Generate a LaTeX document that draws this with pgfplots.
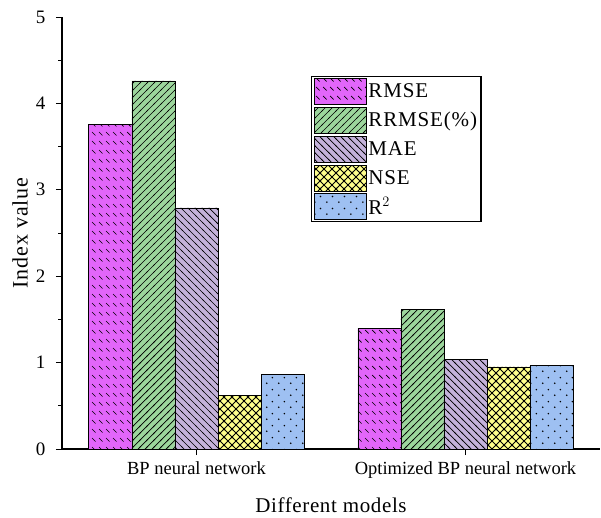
\documentclass[border=0pt]{standalone}
\usepackage{pgfplots}
\pgfplotsset{compat=1.18}
\usepackage{fontspec}
\setmainfont{Liberation Serif}
\usetikzlibrary{patterns}
\definecolor{cRMSE}{RGB}{226,102,250}
\definecolor{cRRMSE}{RGB}{156,214,156}
\definecolor{cMAE}{RGB}{196,178,218}
\definecolor{cNSE}{RGB}{255,255,140}
\definecolor{cR}{RGB}{158,192,242}
\pgfdeclarepatternformonly{rmsepat}{\pgfqpoint{-1pt}{-1pt}}{\pgfqpoint{8pt}{10pt}}{\pgfqpoint{7pt}{9pt}}{
  \pgfsetlinewidth{0.7pt}
  \pgfpathmoveto{\pgfqpoint{1pt}{7pt}}
  \pgfpathlineto{\pgfqpoint{4.5pt}{3.5pt}}
  \pgfusepath{stroke}}
\pgfdeclarepatternformonly{nelines}{\pgfqpoint{-1pt}{-1pt}}{\pgfqpoint{8pt}{8pt}}{\pgfqpoint{7pt}{7pt}}{
  \pgfsetlinewidth{0.7pt}
  \pgfpathmoveto{\pgfqpoint{-1pt}{-1pt}}
  \pgfpathlineto{\pgfqpoint{8pt}{8pt}}
  \pgfusepath{stroke}}
\pgfdeclarepatternformonly{nwlines}{\pgfqpoint{-1pt}{-1pt}}{\pgfqpoint{8pt}{8pt}}{\pgfqpoint{7pt}{7pt}}{
  \pgfsetlinewidth{0.7pt}
  \pgfpathmoveto{\pgfqpoint{-1pt}{8pt}}
  \pgfpathlineto{\pgfqpoint{8pt}{-1pt}}
  \pgfusepath{stroke}}
\pgfdeclarepatternformonly{xhatch}{\pgfqpoint{-1pt}{-1pt}}{\pgfqpoint{9pt}{9pt}}{\pgfqpoint{8pt}{8pt}}{
  \pgfsetlinewidth{1pt}
  \pgfpathmoveto{\pgfqpoint{-1pt}{-1pt}}
  \pgfpathlineto{\pgfqpoint{9pt}{9pt}}
  \pgfpathmoveto{\pgfqpoint{-1pt}{9pt}}
  \pgfpathlineto{\pgfqpoint{9pt}{-1pt}}
  \pgfusepath{stroke}}
\pgfdeclarepatternformonly{sdots}{\pgfqpoint{0pt}{0pt}}{\pgfqpoint{12pt}{12pt}}{\pgfqpoint{12pt}{12pt}}{
  \pgfpathcircle{\pgfqpoint{3pt}{3pt}}{0.9pt}
  \pgfpathcircle{\pgfqpoint{9pt}{9pt}}{0.9pt}
  \pgfusepath{fill}}
\pgfplotsset{mylegend/.style={legend image code/.code={\draw[##1] (0pt,-13pt) rectangle (52pt,13pt);}}}
\begin{document}
\begin{tikzpicture}
\begin{axis}[
  scale only axis, width=538pt, height=432pt,
  xmin=-0.5, xmax=1.5, ymin=0, ymax=5,
  axis lines*=left,
  axis line style={line width=1.1pt},
  xtick={0,1}, xticklabels={BP neural network, Optimized BP neural network},
  ytick={0,1,2,3,4,5}, minor y tick num=1,
  tick align=outside, major tick length=6pt, minor tick length=3.5pt,
  tick style={black, line width=0.9pt},
  yticklabel style={font=\fontsize{19}{21}\selectfont, xshift=-7pt},
  xticklabel style={font=\fontsize{18.5}{21}\selectfont, yshift=-3pt},
  /pgf/number format/assume math mode=true,
  xlabel={Different models}, ylabel={Index value},
  xlabel style={font=\fontsize{21}{23}\selectfont\addfontfeatures{LetterSpace=3}, at={(axis description cs:0.5,-0.13)}, anchor=center},
  ylabel style={font=\fontsize{22}{24}\selectfont\addfontfeatures{LetterSpace=4}, at={(axis description cs:-0.078,0.5)}, anchor=center},
  bar width=0.16,
  legend style={at={(0.463,0.863)}, anchor=north west, draw=black, line width=1.1pt,
    font=\fontsize{21}{23}\selectfont\addfontfeatures{LetterSpace=4}, row sep=2pt, inner xsep=2pt, inner ysep=1.5pt,
    cells={anchor=west}},
]
\addplot[ybar, bar shift=-0.32, fill=cRMSE, draw=black, line width=0.8pt, postaction={pattern=rmsepat}, mylegend] coordinates {(0,3.76) (1,1.40)};
\addplot[ybar, bar shift=-0.16, fill=cRRMSE, draw=black, line width=0.8pt, postaction={pattern=nelines}, mylegend] coordinates {(0,4.26) (1,1.61)};
\addplot[ybar, bar shift=0, fill=cMAE, draw=black, line width=0.8pt, postaction={pattern=nwlines}, mylegend] coordinates {(0,2.79) (1,1.04)};
\addplot[ybar, bar shift=0.16, fill=cNSE, draw=black, line width=0.8pt, postaction={pattern=xhatch}, mylegend] coordinates {(0,0.625) (1,0.95)};
\addplot[ybar, bar shift=0.32, fill=cR, draw=black, line width=0.8pt, postaction={pattern=sdots}, mylegend] coordinates {(0,0.86) (1,0.97)};
\legend{RMSE, RRMSE(\%), MAE, NSE, R$^2$}
\end{axis}
\path ([xshift=-62pt,yshift=-68pt]current axis.south west) rectangle ([xshift=1pt,yshift=17pt]current axis.north east);
\end{tikzpicture}
\end{document}
